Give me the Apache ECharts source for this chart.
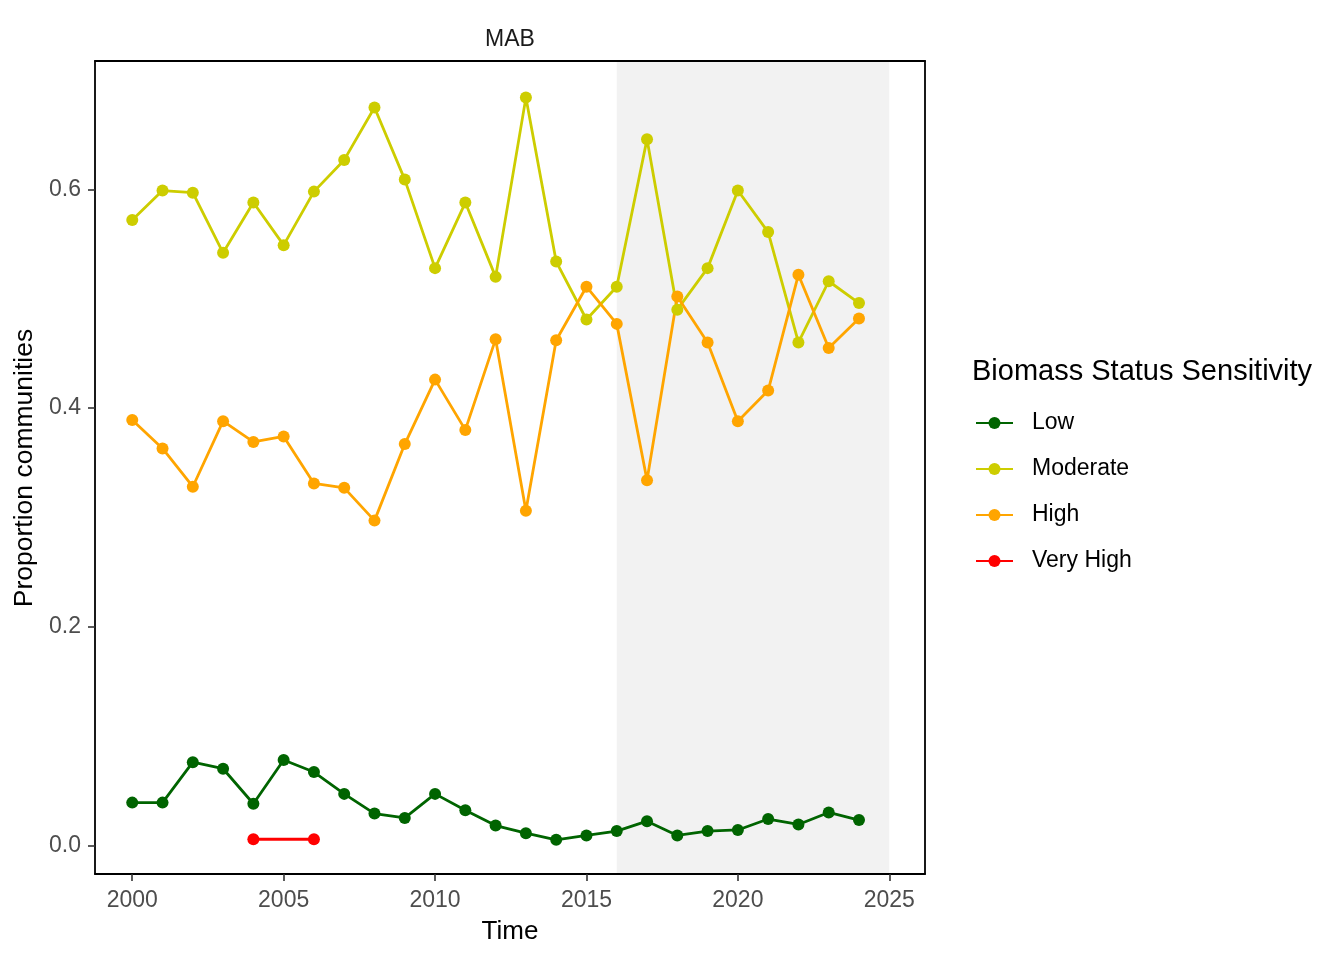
<!DOCTYPE html>
<html>
<head>
<meta charset="utf-8">
<script src="https://cdn.jsdelivr.net/npm/echarts@6/dist/echarts.min.js"></script>
<style>
html,body{margin:0;padding:0;background:#fff;}
#chart{width:1344px;height:960px;}
</style>
</head>
<body>
<div id="chart"></div>
<script>
const years = [2000,2001,2002,2003,2004,2005,2006,2007,2008,2009,2010,2011,2012,2013,2014,2015,2016,2017,2018,2019,2020,2021,2022,2023,2024];
const low = [0.039,0.039,0.076,0.070,0.038,0.078,0.067,0.047,0.029,0.025,0.047,0.032,0.018,0.011,0.005,0.009,0.013,0.022,0.009,0.013,0.014,0.024,0.019,0.030,0.023];
const moderate = [0.572,0.599,0.597,0.542,0.588,0.549,0.598,0.627,0.675,0.609,0.528,0.588,0.520,0.684,0.534,0.481,0.511,0.646,0.490,0.528,0.599,0.561,0.460,0.516,0.496];
const high = [0.389,0.363,0.328,0.388,0.369,0.374,0.331,0.327,0.297,0.367,0.426,0.380,0.463,0.306,0.462,0.511,0.477,0.334,0.502,0.460,0.388,0.416,0.522,0.455,0.482];
const veryHighYears = [2004,2006];
const veryHigh = [0.0055,0.0055];
const shadeRange = [2016,2025];
const xTicks = [2000,2005,2010,2015,2020,2025];
const yTicks = [0,0.2,0.4,0.6];
const seriesNames = ['Low','Moderate','High','Very High'];
const colors = ['#006400','#CDCD00','#FFA500','#FF0000'];

const FONT = "'Liberation Sans', Arial, sans-serif";
const chart = echarts.init(document.getElementById('chart'), null, {renderer:'canvas'});

function pairs(xs, ys){ return xs.map((x,i)=>[x, ys[i]]); }
function lineSeries(name, data, color){
  return {
    name: name, type:'line', data: data,
    symbol:'circle', symbolSize:12, showSymbol:true,
    lineStyle:{color:color, width:2.8},
    itemStyle:{color:color},
    z:3, silent:true
  };
}

const xMin = 1998.77, xMax = 2026.18, yMin = -0.0263, yMax = 0.7175;

const option = {
  animation:false,
  backgroundColor:'#fff',
  grid:{left:95, right:419, top:61, bottom:86, containLabel:false},
  xAxis:[{
    type:'value', min:xMin, max:xMax, position:'bottom', z:10,
    axisLine:{show:true, onZero:false, lineStyle:{color:'#000', width:1.8}},
    axisTick:{show:true, length:7, customValues:xTicks, lineStyle:{color:'#333', width:1.6}},
    axisLabel:{show:true, customValues:xTicks, margin:15, color:'#4D4D4D', fontSize:23, fontFamily:FONT,
      formatter:v=>String(v)},
    splitLine:{show:false}
  },{
    type:'value', min:xMin, max:xMax, position:'top', z:10,
    axisLine:{show:true, onZero:false, lineStyle:{color:'#000', width:1.8}},
    axisTick:{show:false}, axisLabel:{show:false}, splitLine:{show:false}
  }],
  yAxis:[{
    type:'value', min:yMin, max:yMax, position:'left', z:10,
    axisLine:{show:true, onZero:false, lineStyle:{color:'#000', width:1.8}},
    axisTick:{show:true, length:7, customValues:yTicks, lineStyle:{color:'#333', width:1.6}},
    axisLabel:{show:true, customValues:yTicks, margin:14, color:'#4D4D4D', fontSize:23, fontFamily:FONT,
      formatter:v=>Number(v).toFixed(1)},
    splitLine:{show:false}
  },{
    type:'value', min:yMin, max:yMax, position:'right', z:10,
    axisLine:{show:true, onZero:false, lineStyle:{color:'#000', width:1.8}},
    axisTick:{show:false}, axisLabel:{show:false}, splitLine:{show:false}
  }],
  legend:{
    data:seriesNames, orient:'vertical', left:975, top:410, padding:0,
    itemWidth:37, itemHeight:15, itemGap:20, selectedMode:false,
    textStyle:{color:'#000', fontSize:23, fontFamily:FONT, lineHeight:26, padding:[0,0,0,14]}
  },
  graphic:[
    {type:'text', x:510, y:40, silent:true, style:{text:'MAB', font:'23px '+FONT, fill:'#1A1A1A', textAlign:'center', textVerticalAlign:'middle'}},
    {type:'text', x:510, y:932, silent:true, style:{text:'Time', font:'26px '+FONT, fill:'#000', textAlign:'center', textVerticalAlign:'middle'}},
    {type:'text', x:25, y:468, rotation:Math.PI/2, silent:true, style:{text:'Proportion communities', font:'26.5px '+FONT, fill:'#000', textAlign:'center', textVerticalAlign:'middle'}},
    {type:'text', x:972, y:372, silent:true, style:{text:'Biomass Status Sensitivity', font:'29px '+FONT, fill:'#000', textAlign:'left', textVerticalAlign:'middle'}}
  ],
  series:[
    {
      name:'shade', type:'line', data:[], z:1, silent:true,
      markArea:{silent:true, itemStyle:{color:'#F2F2F2', opacity:1},
        data:[[{xAxis:shadeRange[0]},{xAxis:shadeRange[1]}]]}
    },
    lineSeries('Low', pairs(years, low), colors[0]),
    lineSeries('Moderate', pairs(years, moderate), colors[1]),
    lineSeries('High', pairs(years, high), colors[2]),
    lineSeries('Very High', pairs(veryHighYears, veryHigh), colors[3])
  ]
};
chart.setOption(option);
</script>
</body>
</html>
